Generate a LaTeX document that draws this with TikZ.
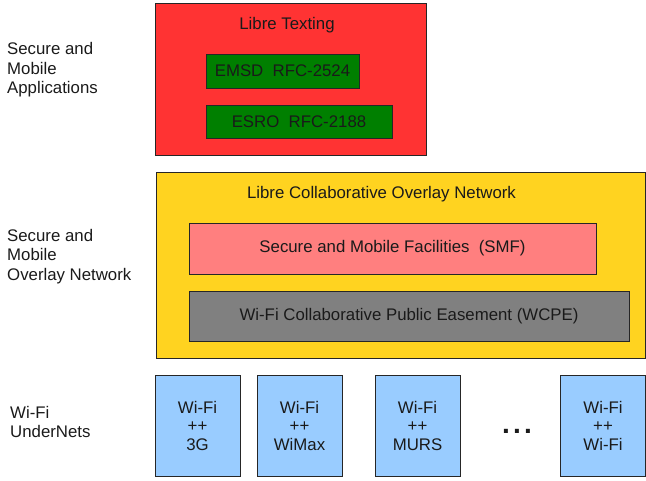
\documentclass[tikz,border=0pt]{standalone}
\usepackage{fontspec}
\setmainfont{Liberation Sans}
\definecolor{txt}{HTML}{1A1A1A}
\definecolor{redbox}{HTML}{FF3333}
\definecolor{greenbox}{HTML}{007F00}
\definecolor{yellowbox}{HTML}{FFD320}
\definecolor{pinkbox}{HTML}{FF7F7F}
\definecolor{graybox}{HTML}{808080}
\definecolor{bluebox}{HTML}{99CCFF}
\begin{document}
\begin{tikzpicture}[x=1pt,y=-1pt,
  box/.style={draw=black!85, line width=0.9pt, inner sep=0pt},
  lbl/.style={text=txt, font=\fontsize{16.8}{19.5}\selectfont, inner sep=0pt},
  side/.style={lbl, anchor=west, align=left},
  netbox/.style={box, fill=bluebox, minimum width=85, minimum height=101, text=txt, align=center, font=\fontsize{16.8}{18.5}\selectfont}]
\useasboundingbox (0,0) rectangle (646,480);
% top layer
\node[box, fill=redbox, minimum width=271, minimum height=152] (apps) at (290.5,79) {};
\node[lbl] (appsl) at (287,25.5) {Libre Texting};
\node[box, fill=greenbox, minimum width=153, minimum height=34, lbl] (emsd) at (282.5,71) {EMSD\ \ RFC-2524};
\node[box, fill=greenbox, minimum width=186, minimum height=33, lbl] (esro) at (299,121.5) {ESRO\ \ RFC-2188};
% middle layer
\node[box, fill=yellowbox, minimum width=489, minimum height=186] (overlay) at (400.5,265.5) {};
\node[lbl] (overlayl) at (381.5,194.5) {Libre Collaborative Overlay Network};
\node[box, fill=pinkbox, minimum width=407, minimum height=51, lbl] (smf) at (392.5,248.5) {Secure and Mobile Facilities\ \ (SMF)};
\node[box, fill=graybox, minimum width=440, minimum height=50, lbl] (wcpe) at (409,316) {Wi-Fi Collaborative Public Easement (WCPE)};
% bottom layer
\node[netbox] (n1) at (197.5,425.5) {Wi-Fi\\++\\3G};
\node[netbox] (n2) at (299.5,425.5) {Wi-Fi\\++\\WiMax};
\node[netbox] (n3) at (417.5,425.5) {Wi-Fi\\++\\MURS};
\node[lbl, font=\fontsize{28}{28}\bfseries, anchor=base] (dots) at (517,433.5) {.\kern3.2pt.\kern3.2pt.};
\node[netbox] (n4) at (603,425.5) {Wi-Fi\\++\\Wi-Fi};
% side labels
\node[side] (s1) at (7,70) {Secure and\\Mobile\\Applications};
\node[side] (s2) at (7,256.5) {Secure and\\Mobile\\Overlay Network};
\node[side] (s3) at (10,422) {Wi-Fi\\UnderNets};
\end{tikzpicture}
\end{document}
